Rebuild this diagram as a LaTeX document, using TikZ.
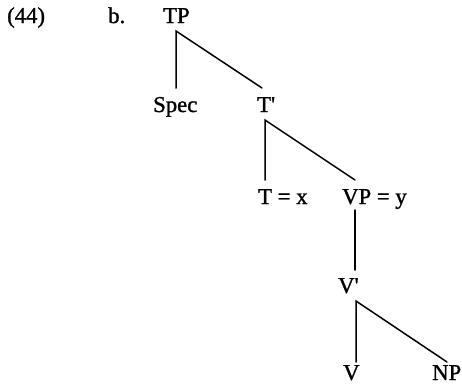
\documentclass[tikz,border=0pt]{standalone}
\usepackage{fontspec}
\setmainfont{Liberation Serif}
\newfontfamily\treefont{Liberation Serif}[FakeBold=1.2]
\begin{document}
\begin{tikzpicture}[x=1pt,y=-1pt,
  lab/.style={anchor=base west,inner sep=0pt,font=\treefont\fontsize{22.7}{27}\selectfont},
  branch/.style={line width=1.5pt,line cap=round}]
\useasboundingbox (0,0) rectangle (462,389);
% labels
\node[lab] (ex) at (7,23) {(44)};
\node[lab] (b) at (108,23) {b.};
\node[lab] (TP) at (163,23) {TP};
\node[lab] (Spec) at (153,112) {Spec};
\node[lab] (Tbar) at (257,112) {T\textquotesingle};
\node[lab] (T) at (258,204) {T = x};
\node[lab] (VP) at (342,204) {VP = y};
\node[lab] (Vbar) at (338,293) {V\textquotesingle};
\node[lab] (V) at (343,380) {V};
\node[lab] (NP) at (432,380) {NP};
% branch points
\coordinate (TPb) at (176,31);
\coordinate (Spect) at (176,88);
\coordinate (Tbart) at (262,88);
\coordinate (Tbarb) at (265,120);
\coordinate (Tt) at (265,180);
\coordinate (VPt) at (355,180);
\coordinate (VPb) at (355,210);
\coordinate (Vbart) at (355,270);
\coordinate (Vbarb) at (356,301);
\coordinate (Vt) at (356,362);
\coordinate (NPt) at (447,362);
% branches
\draw[branch] (Spect) -- (TPb) -- (Tbart);
\draw[branch] (Tt) -- (Tbarb) -- (VPt);
\draw[branch] (VPb) -- (Vbart);
\draw[branch] (Vt) -- (Vbarb) -- (NPt);
\end{tikzpicture}
\end{document}
